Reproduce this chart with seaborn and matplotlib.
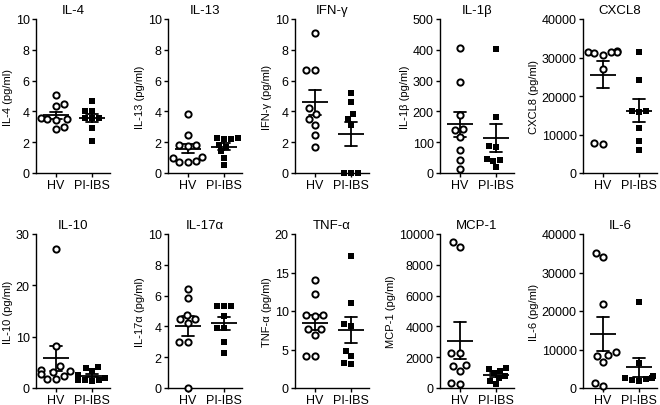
import numpy as np
import pandas as pd
import matplotlib
matplotlib.use('Agg')
import matplotlib.pyplot as plt
import seaborn as sns

sns.set_theme(style='ticks')
plt.rcParams['font.family'] = ['Liberation Sans', 'DejaVu Sans']
plt.rcParams['axes.edgecolor'] = 'black'
plt.rcParams['xtick.color'] = 'black'
plt.rcParams['ytick.color'] = 'black'
plt.rcParams['text.color'] = 'black'
plt.rcParams['axes.labelcolor'] = 'black'

groups = ['HV', 'PI-IBS']

# values (pg/ml)
il4_hv = [5.05, 4.5, 4.35, 3.55, 3.5, 3.45, 3.5, 2.85, 3.0]
il4_ibs = [4.7, 4.05, 4.0, 3.6, 3.55, 3.6, 2.9, 2.1]
il13_hv = [3.8, 2.5, 1.85, 1.8, 1.75, 1.05, 1.0, 0.75, 0.7, 0.7]
il13_ibs = [2.25, 2.2, 2.3, 2.2, 1.8, 1.7, 1.4, 1.0, 0.5]
ifng_hv = [9.1, 6.7, 6.7, 4.2, 3.85, 3.5, 3.1, 2.45, 1.7]
ifng_ibs = [5.2, 4.6, 3.8, 3.5, 3.1, 0, 0, 0]
il1b_hv = [405, 297, 189, 142, 138, 117, 76, 43, 13]
il1b_ibs = [402, 181, 88, 86, 43, 45, 38, 18]
cxcl8_hv = [31600, 31400, 31300, 31500, 31200, 30700, 27000, 7500, 7800]
cxcl8_ibs = [31500, 24200, 16000, 15800, 16100, 11600, 8200, 6000]
il10_hv = [27.0, 8.2, 4.2, 3.6, 3.3, 3.2, 2.8, 2.4, 1.8, 1.7]
il10_ibs = [4.0, 3.9, 3.3, 2.5, 2.0, 1.6, 1.5, 1.4, 1.5]
il17_hv = [6.4, 5.85, 4.75, 4.5, 4.45, 4.2, 3.0, 3.0, 0.0]
il17_ibs = [5.3, 5.3, 5.3, 4.7, 3.9, 3.9, 3.0, 2.25]
tnf_hv = [14.0, 12.2, 9.5, 9.5, 9.4, 7.6, 7.6, 6.9, 4.1, 4.1]
tnf_ibs = [17.2, 11.1, 8.1, 8.3, 4.8, 4.2, 3.1, 3.2]
mcp1_hv = [9450, 9150, 2250, 2300, 1500, 1400, 1100, 280, 320]
mcp1_ibs = [1300, 1250, 1100, 950, 800, 650, 450, 250]
il6_hv = [35100, 33900, 21800, 9400, 8400, 8500, 6800, 1400, 500]
il6_ibs = [22400, 6500, 3000, 2700, 2600, 2400, 2100, 1800]

titles = ['IL-4', 'IL-13', 'IFN-γ', 'IL-1β', 'CXCL8',
          'IL-10', 'IL-17α', 'TNF-α', 'MCP-1', 'IL-6']
hv_data = [il4_hv, il13_hv, ifng_hv, il1b_hv, cxcl8_hv,
           il10_hv, il17_hv, tnf_hv, mcp1_hv, il6_hv]
ibs_data = [il4_ibs, il13_ibs, ifng_ibs, il1b_ibs, cxcl8_ibs,
            il10_ibs, il17_ibs, tnf_ibs, mcp1_ibs, il6_ibs]
y_max = [10, 10, 10, 500, 40000, 30, 10, 20, 10000, 40000]
y_step = [2, 2, 2, 100, 10000, 10, 2, 5, 2000, 10000]

# axes placement in pixels
W, H = 660, 406
col_left = [36, 168, 295, 440, 583]
row_bottom = [174, 389]
ax_w, ax_h = 74, 154

fig = plt.figure(figsize=(W / 100, H / 100), dpi=100)

for i in range(10):
    row, col = divmod(i, 5)
    ax = fig.add_axes([col_left[col] / W, (H - row_bottom[row]) / H, ax_w / W, ax_h / H])
    hv = hv_data[i]
    ibs = ibs_data[i]
    df = pd.DataFrame({'group': ['HV'] * len(hv) + ['PI-IBS'] * len(ibs),
                       'value': hv + ibs})

    sns.swarmplot(data=df[df.group == 'HV'], x='group', y='value', order=groups,
                  marker='o', color='white', edgecolor='black', linewidth=1.4,
                  size=4.5, ax=ax)
    sns.swarmplot(data=df[df.group == 'PI-IBS'], x='group', y='value', order=groups,
                  marker='s', color='black', linewidth=0, size=4.8, ax=ax)
    sns.pointplot(data=df, x='group', y='value', order=groups, errorbar='se',
                  capsize=0.32, color='black', linestyle='none', marker='_',
                  markersize=19, markeredgewidth=1.3,
                  err_kws={'linewidth': 1.3}, ax=ax)

    for c in ax.collections:
        c.set_clip_on(False)

    ax.set_ylim(0, y_max[i])
    ax.set_yticks(np.arange(0, y_max[i] + y_step[i] / 2, y_step[i]))
    ax.set_xlim(-0.55, 1.5)
    ax.set_xlabel('')
    ax.set_ylabel(titles[i] + ' (pg/ml)', fontsize=8, labelpad=2)
    ax.set_title(titles[i], fontsize=9.5, pad=4)
    ax.tick_params(axis='both', length=3, width=1, labelsize=9, pad=1.5)
    for s in ['left', 'bottom']:
        ax.spines[s].set_linewidth(1)
    sns.despine(ax=ax)

fig.savefig('out.png', dpi=100)
